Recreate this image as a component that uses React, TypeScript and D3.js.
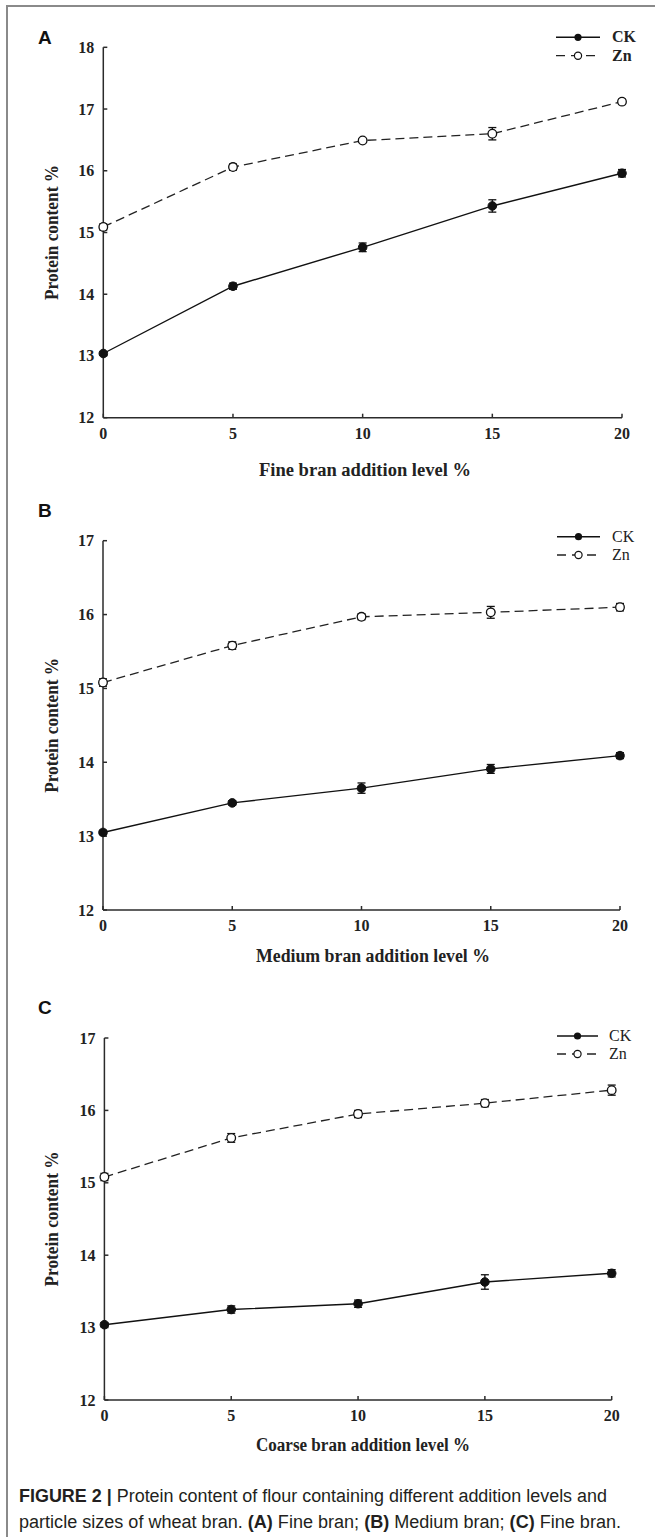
import React from "react";
import * as d3 from "d3";

// ---- data ----
const levels = [0, 5, 10, 15, 20];
const yTicksA = [12, 13, 14, 15, 16, 17, 18];
const yTicksBC = [12, 13, 14, 15, 16, 17];

const ckA = [13.04, 14.13, 14.76, 15.43, 15.96];
const ckErrA = [0.03, 0.05, 0.07, 0.1, 0.06];
const znA = [15.09, 16.06, 16.49, 16.6, 17.12];
const znErrA = [0.05, 0.05, 0.03, 0.1, 0.04];

const ckB = [13.05, 13.45, 13.65, 13.91, 14.09];
const ckErrB = [0.03, 0.03, 0.07, 0.06, 0.04];
const znB = [15.08, 15.58, 15.97, 16.03, 16.1];
const znErrB = [0.05, 0.05, 0.04, 0.08, 0.05];

const ckC = [13.04, 13.25, 13.33, 13.63, 13.75];
const ckErrC = [0.03, 0.05, 0.05, 0.1, 0.05];
const znC = [15.08, 15.62, 15.95, 16.1, 16.28];
const znErrC = [0.05, 0.06, 0.05, 0.05, 0.07];

const seriesNames = ["CK", "Zn"];
const xTitles = [
  "Fine bran addition level %",
  "Medium bran addition level %",
  "Coarse bran addition level %",
];
const yTitle = "Protein content %";
const panelLetters = ["A", "B", "C"];

const SERIF = "'Liberation Serif', 'Times New Roman', serif";
const SANS = "'Liberation Sans', Arial, sans-serif";
const AX = "#2b2b2b";

type PanelProps = {
  letter: string;
  letterY: number;
  x0: number;
  x1: number;
  yTop: number;
  yBot: number;
  yTicks: number[];
  ck: number[];
  ckErr: number[];
  zn: number[];
  znErr: number[];
  xTitle: string;
  titleX: number;
  titleY: number;
  titleW: number;
  legX0: number;
  legX1: number;
  legY1: number;
  legY2: number;
  legTextX: number;
  legBold: boolean;
};

function Panel(p: PanelProps) {
  const x = d3.scaleLinear().domain([0, 20]).range([p.x0, p.x1]);
  const y = d3
    .scaleLinear()
    .domain([12, p.yTicks[p.yTicks.length - 1]])
    .range([p.yBot, p.yTop]);
  const line = d3
    .line<number>()
    .x((_, i) => x(levels[i]))
    .y((d) => y(d));
  const r = 4.3;
  const cap = 4;

  const errBars = (vals: number[], errs: number[], key: string) =>
    vals.map((v, i) => {
      const cx = x(levels[i]);
      const y1 = y(v + errs[i]);
      const y2 = y(v - errs[i]);
      return (
        <g key={key + i} stroke="#111" strokeWidth={1.3}>
          <line x1={cx} x2={cx} y1={y1} y2={y2} />
          <line x1={cx - cap} x2={cx + cap} y1={y1} y2={y1} />
          <line x1={cx - cap} x2={cx + cap} y1={y2} y2={y2} />
        </g>
      );
    });

  const midY = (p.yTop + p.yBot) / 2;
  const legMid = (p.legX0 + p.legX1) / 2;

  return (
    <g>
      <text
        x={38}
        y={p.letterY}
        fontFamily={SANS}
        fontWeight="bold"
        fontSize={19}
        fill="#111"
      >
        {p.letter}
      </text>
      {/* axes */}
      <line x1={p.x0} x2={p.x0} y1={p.yTop} y2={p.yBot} stroke={AX} strokeWidth={1.5} />
      <line x1={p.x0} x2={p.x1} y1={p.yBot} y2={p.yBot} stroke={AX} strokeWidth={1.5} />
      {p.yTicks.map((t) => (
        <g key={"yt" + t}>
          <line x1={p.x0} x2={p.x0 + 4} y1={y(t)} y2={y(t)} stroke={AX} strokeWidth={1.5} />
          <text
            x={p.x0 - 9}
            y={y(t) + 5.5}
            textAnchor="end"
            fontFamily={SERIF}
            fontWeight="bold"
            fontSize={16}
            fill="#222"
          >
            {t}
          </text>
        </g>
      ))}
      {levels.map((t) => (
        <g key={"xt" + t}>
          <line x1={x(t)} x2={x(t)} y1={p.yBot} y2={p.yBot - 4} stroke={AX} strokeWidth={1.5} />
          <text
            x={x(t)}
            y={p.yBot + 21}
            textAnchor="middle"
            fontFamily={SERIF}
            fontWeight="bold"
            fontSize={16}
            fill="#222"
          >
            {t}
          </text>
        </g>
      ))}
      <text
        x={p.titleX}
        y={p.titleY}
        textAnchor="middle"
        fontFamily={SERIF}
        fontWeight="bold"
        fontSize={18}
        fill="#222"
        textLength={p.titleW}
        lengthAdjust="spacingAndGlyphs"
      >
        {p.xTitle}
      </text>
      <text
        transform={`translate(58,${midY}) rotate(-90)`}
        textAnchor="middle"
        fontFamily={SERIF}
        fontWeight="bold"
        fontSize={18}
        fill="#222"
        textLength={135}
        lengthAdjust="spacingAndGlyphs"
      >
        {yTitle}
      </text>
      {/* series lines */}
      <path d={line(p.zn) || ""} fill="none" stroke="#222" strokeWidth={1.3} strokeDasharray="9,5" />
      <path d={line(p.ck) || ""} fill="none" stroke="#111" strokeWidth={1.4} />
      {errBars(p.zn, p.znErr, "ez")}
      {errBars(p.ck, p.ckErr, "ec")}
      {p.zn.map((v, i) => (
        <circle key={"zn" + i} cx={x(levels[i])} cy={y(v)} r={r} fill="#fff" stroke="#111" strokeWidth={1.3} />
      ))}
      {p.ck.map((v, i) => (
        <circle key={"ck" + i} cx={x(levels[i])} cy={y(v)} r={r} fill="#111" stroke="#111" strokeWidth={1} />
      ))}
      {/* legend */}
      <line x1={p.legX0} x2={p.legX1} y1={p.legY1} y2={p.legY1} stroke="#111" strokeWidth={1.4} />
      <circle cx={legMid} cy={p.legY1} r={3.6} fill="#111" />
      <line x1={p.legX0} x2={p.legX1} y1={p.legY2} y2={p.legY2} stroke="#222" strokeWidth={1.3} strokeDasharray="9,6" />
      <circle cx={legMid} cy={p.legY2} r={3.6} fill="#fff" stroke="#111" strokeWidth={1.2} />
      <text
        x={p.legTextX}
        y={p.legY1 + 5}
        fontFamily={SERIF}
        fontWeight={p.legBold ? "bold" : "normal"}
        fontSize={16}
        fill="#222"
      >
        {seriesNames[0]}
      </text>
      <text
        x={p.legTextX}
        y={p.legY2 + 5}
        fontFamily={SERIF}
        fontWeight={p.legBold ? "bold" : "normal"}
        fontSize={16}
        fill="#222"
      >
        {seriesNames[1]}
      </text>
    </g>
  );
}

export default function App() {
  return (
    <svg
      width={655}
      height={1537}
      style={{ position: "absolute", left: 0, top: 0, background: "#fff" }}
    >
      <rect x={0} y={0} width={655} height={1537} fill="#fff" />
      <path d="M7,1537 L7,6 L655,6" fill="none" stroke="#8a8a8a" strokeWidth={2} />
      <Panel
        letter={panelLetters[0]}
        letterY={44}
        x0={103.3}
        x1={622}
        yTop={47.3}
        yBot={417.7}
        yTicks={yTicksA}
        ck={ckA}
        ckErr={ckErrA}
        zn={znA}
        znErr={znErrA}
        xTitle={xTitles[0]}
        titleX={365}
        titleY={476}
        titleW={212}
        legX0={556}
        legX1={600}
        legY1={37.3}
        legY2={55.7}
        legTextX={612}
        legBold={true}
      />
      <Panel
        letter={panelLetters[1]}
        letterY={517}
        x0={103}
        x1={620}
        yTop={540.7}
        yBot={910}
        yTicks={yTicksBC}
        ck={ckB}
        ckErr={ckErrB}
        zn={znB}
        znErr={znErrB}
        xTitle={xTitles[1]}
        titleX={373}
        titleY={962}
        titleW={234}
        legX0={557}
        legX1={600}
        legY1={536.7}
        legY2={555}
        legTextX={612}
        legBold={false}
      />
      <Panel
        letter={panelLetters[2]}
        letterY={1014}
        x0={104.4}
        x1={611.7}
        yTop={1038}
        yBot={1400}
        yTicks={yTicksBC}
        ck={ckC}
        ckErr={ckErrC}
        zn={znC}
        znErr={znErrC}
        xTitle={xTitles[2]}
        titleX={363}
        titleY={1451}
        titleW={214}
        legX0={557}
        legX1={598}
        legY1={1036}
        legY2={1054}
        legTextX={609}
        legBold={false}
      />
      <text x={19} y={1502} fontFamily={SANS} fontSize={18} fill="#231f20" textLength={588} lengthAdjust="spacingAndGlyphs">
        <tspan fontWeight="bold">FIGURE 2 |</tspan> Protein content of flour containing different addition levels and
      </text>
      <text x={19} y={1528} fontFamily={SANS} fontSize={18} fill="#231f20" textLength={602} lengthAdjust="spacingAndGlyphs">
        particle sizes of wheat bran. <tspan fontWeight="bold">(A)</tspan> Fine bran; <tspan fontWeight="bold">(B)</tspan> Medium bran; <tspan fontWeight="bold">(C)</tspan> Fine bran.
      </text>
    </svg>
  );
}
